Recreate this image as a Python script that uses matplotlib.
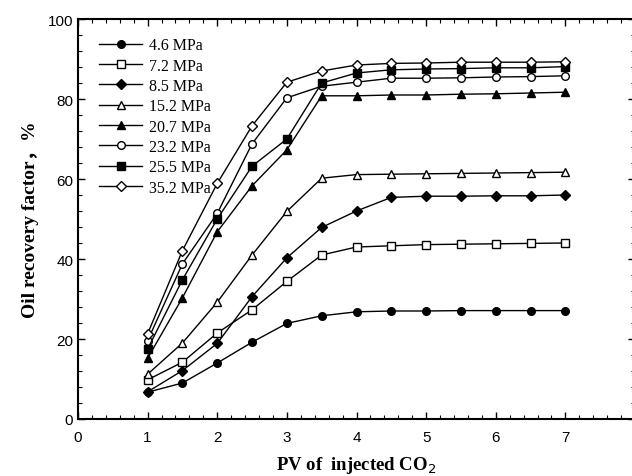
import matplotlib
matplotlib.use("Agg")
import matplotlib.pyplot as plt
from matplotlib.ticker import MultipleLocator, FuncFormatter

pv = [1, 1.5, 2, 2.5, 3, 3.5, 4, 4.5, 5, 5.5, 6, 6.5, 7]

labels = ["4.6 MPa", "7.2 MPa", "8.5 MPa", "15.2 MPa", "20.7 MPa",
          "23.2 MPa", "25.5 MPa", "35.2 MPa"]

r_4_6 = [6.7, 9.0, 14.0, 19.2, 23.9, 25.8, 26.8, 27.0, 27.0, 27.1, 27.1, 27.1, 27.1]
r_7_2 = [9.8, 14.2, 21.5, 27.3, 34.4, 41.0, 43.0, 43.3, 43.6, 43.7, 43.8, 43.9, 44.0]
r_8_5 = [6.8, 12.1, 18.9, 30.6, 40.3, 47.9, 52.0, 55.4, 55.7, 55.7, 55.8, 55.8, 56.0]
r_15_2 = [11.2, 19.0, 29.2, 41.0, 51.9, 60.2, 61.1, 61.2, 61.3, 61.4, 61.5, 61.6, 61.7]
r_20_7 = [15.2, 30.3, 46.8, 58.3, 67.3, 80.8, 80.8, 81.0, 81.0, 81.2, 81.3, 81.5, 81.7]
r_23_2 = [19.6, 38.8, 51.4, 68.8, 80.3, 83.2, 84.2, 85.2, 85.2, 85.3, 85.5, 85.6, 85.8]
r_25_5 = [17.5, 34.8, 50.0, 63.2, 70.0, 84.0, 86.5, 87.3, 87.5, 87.6, 87.8, 87.8, 88.1]
r_35_2 = [21.3, 42.1, 58.9, 73.3, 84.2, 87.0, 88.5, 88.9, 89.0, 89.2, 89.2, 89.2, 89.3]

series = [r_4_6, r_7_2, r_8_5, r_15_2, r_20_7, r_23_2, r_25_5, r_35_2]
markers = ["o", "s", "D", "^", "^", "o", "s", "D"]
filled = [True, False, True, False, True, False, True, False]
sizes = [5.5, 5.2, 5.2, 5.5, 5.5, 5.5, 5.2, 5.2]

fig = plt.figure(figsize=(6.32, 4.77), dpi=100)
ax = fig.add_axes([78 / 632, 1 - 420 / 477, (635 - 78) / 632, 400 / 477])

for ys, lab, m, f, s in zip(series, labels, markers, filled, sizes):
    ax.plot(pv, ys, color="black", lw=1.0, marker=m, ms=s,
            mfc="black" if f else "white", mec="black", mew=1.0, label=lab)

ax.set_xlim(0, 8)
ax.set_ylim(0, 100)
ax.xaxis.set_major_locator(MultipleLocator(1))
ax.xaxis.set_minor_locator(MultipleLocator(0.2))
ax.xaxis.set_major_formatter(FuncFormatter(lambda v, p: "" if v > 7.5 else f"{v:.0f}"))
ax.yaxis.set_major_locator(MultipleLocator(20))
ax.yaxis.set_minor_locator(MultipleLocator(4))
ax.tick_params(which="both", direction="in", top=True, right=True)
ax.tick_params(which="major", length=5, width=1.0)
ax.tick_params(which="minor", length=3, width=0.8)
for sp in ax.spines.values():
    sp.set_linewidth(1.5)

for t in ax.get_xticklabels() + ax.get_yticklabels():
    t.set_fontfamily("Liberation Sans")
    t.set_fontsize(11)
ax.tick_params(axis="x", pad=8)

ax.set_xlabel("PV of  injected CO$_2$", fontfamily="Liberation Serif",
              fontweight="bold", fontsize=13.5, labelpad=7)
ax.set_ylabel("Oil recovery factor，%", fontfamily=["Liberation Serif", "Noto Sans CJK SC"],
              fontweight="bold", fontsize=14, labelpad=6)

leg = ax.legend(loc="upper left", bbox_to_anchor=(0.012, 0.99), frameon=False,
                prop={"family": "Liberation Serif", "size": 11.5},
                handlelength=2.7, labelspacing=0.27, handletextpad=0.45)

fig.savefig("out.png", dpi=100)
